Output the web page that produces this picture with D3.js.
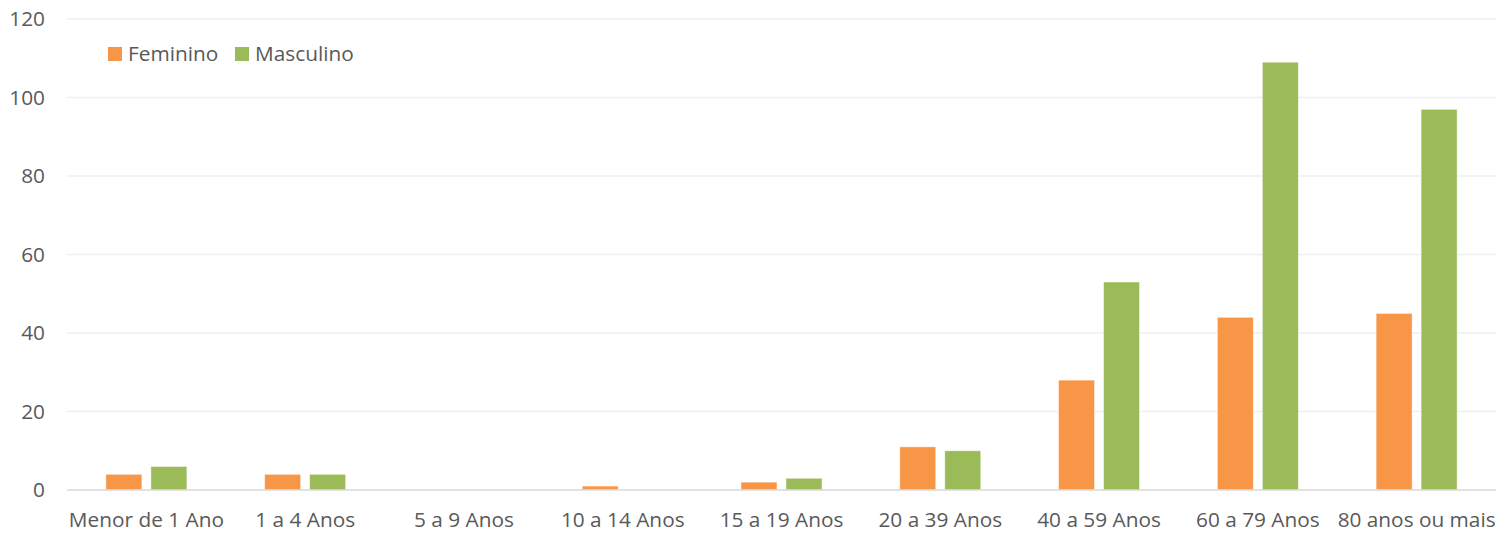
<!DOCTYPE html>
<html><head><meta charset="utf-8">
<script src="https://cdn.jsdelivr.net/npm/d3@7"></script>
<style>body{margin:0;background:#fff}svg{display:block}text{font-family:"Open Sans",sans-serif;fill:#595959}</style>
</head><body><svg id="c" width="1510" height="533"></svg>
<script>
const categories = ["Menor de 1 Ano","1 a 4 Anos","5 a 9 Anos","10 a 14 Anos","15 a 19 Anos","20 a 39 Anos","40 a 59 Anos","60 a 79 Anos","80 anos ou mais"];
const seriesNames = ["Feminino","Masculino"];
const feminino = [4,4,0,1,2,11,28,44,45];
const masculino = [6,4,0,0,3,10,53,109,97];
const yTicks = [0,20,40,60,80,100,120];
const colors = ["#F79646","#9BBB59"];

const svg = d3.select("#c");
const m = {l:67, r:1496, t:19, b:490};
const FS = 20.8;
const x = d3.scaleBand().domain(categories).range([m.l,m.r]);
const y = d3.scaleLinear().domain([0,120]).range([m.b,m.t]);
const groupW = 81;
const xs = d3.scaleBand().domain(seriesNames).range([0,groupW]).paddingInner(0.2);

svg.append("g").selectAll("line").data(yTicks.filter(d=>d>0)).join("line")
  .attr("x1",m.l).attr("x2",m.r).attr("y1",d=>y(d)).attr("y2",d=>y(d))
  .attr("stroke","#EFEFEF").attr("stroke-width",1.3);

const yAxis = svg.append("g").attr("transform",`translate(${m.l},0)`)
  .call(d3.axisLeft(y).tickValues(yTicks).tickSize(0).tickPadding(22));
yAxis.select(".domain").remove();
yAxis.selectAll("text").attr("font-size",FS).attr("font-family","Open Sans").attr("fill","#595959");

const data = [feminino, masculino];
data.forEach((vals,si)=>{
  svg.append("g").selectAll("rect").data(vals).join("rect")
    .attr("x",(d,i)=>x(categories[i])+x.bandwidth()/2-groupW/2+xs(seriesNames[si]))
    .attr("width",xs.bandwidth())
    .attr("y",d=>y(d)).attr("height",d=>y(0)-y(d))
    .attr("fill",colors[si]).attr("stroke","#fff").attr("stroke-opacity",0.6).attr("stroke-width",0.8);
});

svg.append("line").attr("x1",m.l).attr("x2",m.r).attr("y1",y(0)).attr("y2",y(0))
  .attr("stroke","#D9D9D9").attr("stroke-width",1.5);

const xAxis = svg.append("g").attr("transform",`translate(0,${m.b})`)
  .call(d3.axisBottom(x).tickSize(0).tickPadding(22));
xAxis.select(".domain").remove();
xAxis.selectAll("text").attr("font-size",FS).attr("font-family","Open Sans").attr("fill","#595959");

const lg = svg.append("g");
const lx = [108, 235];
seriesNames.forEach((n,i)=>{
  lg.append("rect").attr("x",lx[i]).attr("y",47).attr("width",14).attr("height",14).attr("fill",colors[i]);
  lg.append("text").attr("x",lx[i]+20).attr("y",61).attr("font-size",FS).text(n);
});
</script></body></html>
